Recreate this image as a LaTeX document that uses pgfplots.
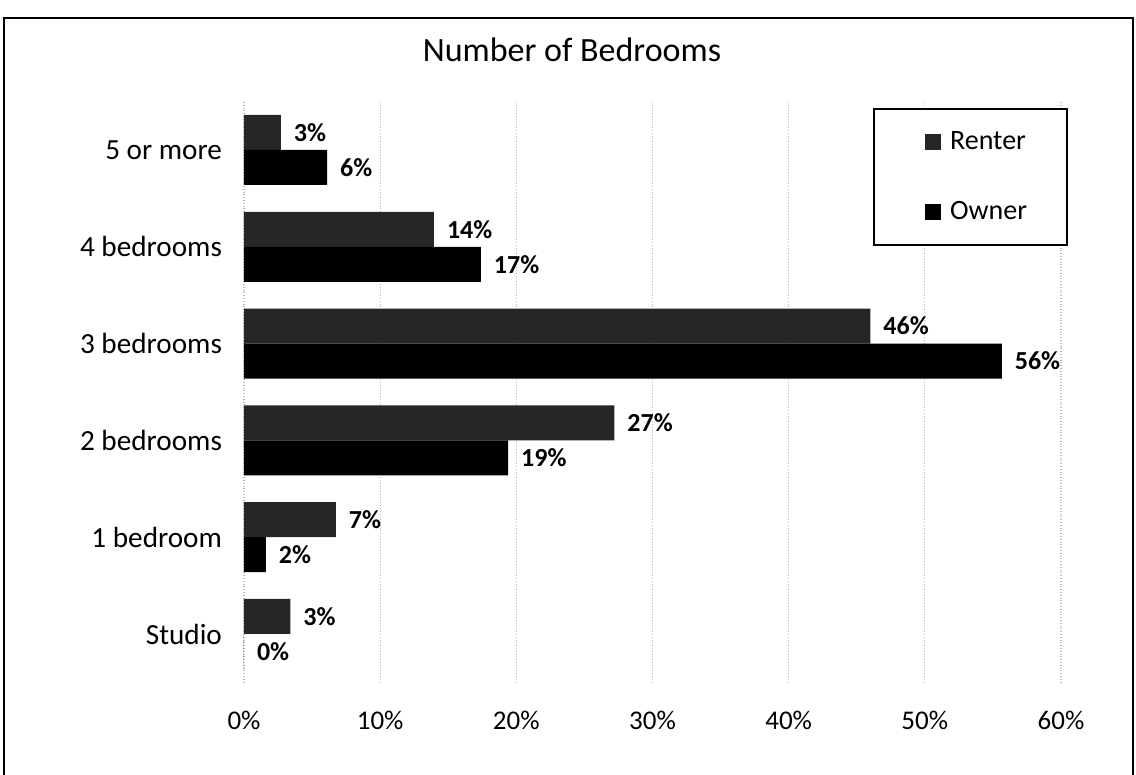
\documentclass[border=0pt]{standalone}
\usepackage{fontspec}
\setmainfont{Carlito}
\usepackage{pgfplots}
\pgfplotsset{compat=1.18}

\definecolor{renter}{RGB}{38,38,38}

\begin{document}
\begin{tikzpicture}
% 1 px of the reference = 0.5pt, origin at the plot area's lower left corner
\useasboundingbox (-122pt,-46.3pt) rectangle (446pt,341.2pt);
\begin{axis}[
    scale only axis,
    width=408.5pt, height=290.4pt,
    xbar, bar width=17.5pt,
    xmin=0, xmax=60,
    ymin=-0.5, ymax=5.5,
    xtick={0,10,20,30,40,50,60},
    xticklabels={0\%,10\%,20\%,30\%,40\%,50\%,60\%},
    ytick={0,1,2,3,4,5},
    yticklabels={Studio,1 bedroom,2 bedrooms,3 bedrooms,4 bedrooms,5 or more},
    xticklabel style={font=\fontsize{13.5}{16}\selectfont, yshift=-11pt},
    yticklabel style={font=\fontsize{14.6}{17}\selectfont, xshift=-7.5pt},
    axis line style={draw=none},
    major tick length=0pt,
    xmajorgrids=true,
    grid style={densely dotted, gray!55, line width=0.6pt},
    point meta=explicit symbolic,
    nodes near coords,
    every node near coord/.append style={font=\fontsize{13}{15}\selectfont\bfseries, anchor=west, xshift=3pt, black},
    legend style={at={(0.770,0.989)}, anchor=north west, draw=black, line width=1pt,
        inner xsep=18pt, inner ysep=9.5pt, row sep=20pt, column sep=2.5pt,
        font=\fontsize{14}{16}\selectfont, cells={anchor=west}},
    legend image code/.code={\path (0pt,0pt); \fill[#1] (7.5pt,-4pt) rectangle (15.5pt,4pt);},
]
\addplot[fill=renter, draw=none, bar shift=8.75pt] coordinates {
    (3.4,0) [3\%]
    (6.75,1) [7\%]
    (27.2,2) [27\%]
    (46.0,3) [46\%]
    (13.95,4) [14\%]
    (2.7,5) [3\%]
};
\addplot[fill=black, draw=none, bar shift=-8.75pt] coordinates {
    (0,0) [0\%]
    (1.6,1) [2\%]
    (19.4,2) [19\%]
    (55.65,3) [56\%]
    (17.4,4) [17\%]
    (6.1,5) [6\%]
};
\legend{Renter,Owner}
\end{axis}
\node[font=\fontsize{17}{20}\selectfont] at (164pt,316.2pt) {Number of Bedrooms};
\draw[line width=1pt] (-120pt,-50pt) -- (-120pt,332.2pt) -- (444.5pt,332.2pt) -- (444.5pt,-50pt);
\end{tikzpicture}
\end{document}
